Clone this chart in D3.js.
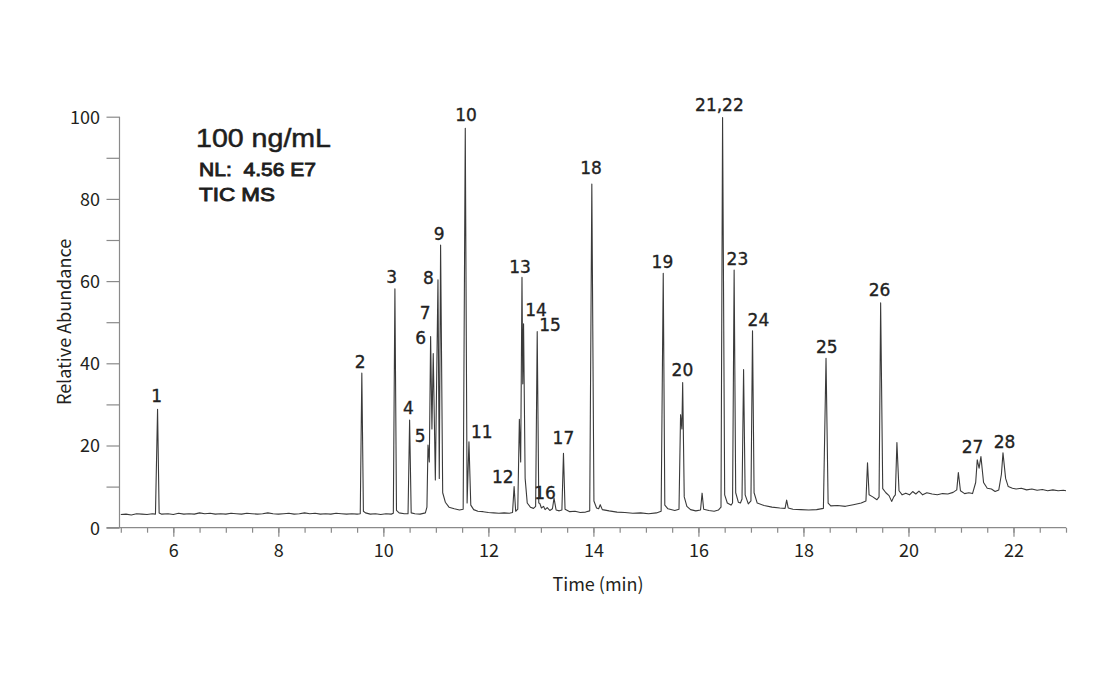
<!DOCTYPE html>
<html>
<head>
<meta charset="utf-8">
<script src="https://cdn.jsdelivr.net/npm/d3@7"></script>
<style>
  html, body { margin: 0; padding: 0; background: #fff; }
  svg { display: block; }
</style>
</head>
<body>
<svg id="chart" width="1101" height="689"></svg>
<script>
// ---- Data ----
const xTickValues = [6, 8, 10, 12, 14, 16, 18, 20, 22];
const yTickValues = [0, 20, 40, 60, 80, 100];

// Total ion chromatogram trace: [time (min), relative abundance (%)]
const trace = [
[5.00,3.2],[5.10,3.3],[5.20,3.1],[5.30,3.4],[5.40,3.3],[5.50,3.2],[5.60,3.4],[5.66,3.3],[5.70,28.8],[5.73,3.6],[5.78,3.3],[5.90,3.4],
[6.00,3.2],[6.10,3.5],[6.20,3.3],[6.30,3.4],[6.40,3.3],[6.50,3.6],[6.60,3.4],[6.70,3.5],[6.80,3.3],[6.90,3.4],[7.00,3.3],[7.10,3.5],
[7.20,3.4],[7.30,3.3],[7.40,3.5],[7.50,3.4],[7.60,3.3],[7.70,3.4],[7.80,3.6],[7.90,3.4],[8.00,3.3],[8.10,3.4],[8.20,3.5],[8.30,3.3],
[8.40,3.4],[8.50,3.6],[8.60,3.4],[8.70,3.5],[8.80,3.3],[8.90,3.4],[9.00,3.3],[9.10,3.5],[9.20,3.4],[9.30,3.3],[9.40,3.4],[9.50,3.3],
[9.56,3.4],[9.59,37.6],[9.62,4.0],[9.66,3.6],[9.75,3.3],[9.85,3.4],[9.95,3.2],[10.05,3.4],[10.15,3.3],[10.19,3.5],[10.22,58.1],
[10.25,4.2],[10.30,3.6],[10.40,3.4],[10.47,3.4],[10.50,26.2],[10.53,3.6],[10.60,3.4],[10.70,3.3],[10.80,3.6],[10.83,5.0],[10.85,20.1],
[10.875,16],[10.90,46.5],[10.925,24],[10.95,42.4],[10.99,11.6],[11.04,60.3],[11.065,12],[11.09,68.8],[11.13,8.5],[11.18,6.2],
[11.25,5.0],[11.35,4.6],[11.45,4.3],[11.52,4.5],[11.56,97.2],[11.595,6.0],[11.63,20.9],[11.665,5.5],[11.72,4.4],[11.80,4.0],
[11.90,3.9],[12.00,3.7],[12.10,3.6],[12.20,3.5],[12.30,3.6],[12.40,3.5],[12.46,3.7],[12.49,10.0],[12.52,4.0],[12.56,4.5],[12.59,26.4],
[12.615,16],[12.64,60.9],[12.655,35],[12.67,49.6],[12.70,12],[12.74,6.0],[12.80,5.0],[12.86,4.7],[12.90,5.2],[12.93,47.7],[12.96,6.0],
[12.98,5.9],[13.01,4.8],[13.05,5.2],[13.08,4.4],[13.12,4.9],[13.17,4.2],[13.22,4.6],[13.25,7.2],[13.29,4.3],[13.35,4.1],[13.40,4.3],
[13.43,18.1],[13.46,4.5],[13.55,3.9],[13.65,4.0],[13.75,3.7],[13.85,3.8],[13.93,4.1],[13.97,83.6],[14.01,6.5],[14.06,4.8],[14.10,4.6],
[14.13,5.6],[14.17,4.4],[14.30,4.1],[14.45,3.8],[14.60,3.7],[14.75,3.5],[14.90,3.6],[15.05,3.4],[15.20,3.6],[15.29,4.0],[15.33,61.9],
[15.36,5.5],[15.42,4.6],[15.55,4.2],[15.63,4.5],[15.66,27.5],[15.685,24],[15.70,35.3],[15.73,7.5],[15.78,5.2],[15.85,4.4],[15.95,4.1],
[16.04,4.3],[16.07,8.4],[16.10,4.5],[16.20,4.2],[16.30,4.0],[16.38,4.3],[16.43,5.0],[16.46,99.8],[16.50,8.0],[16.55,6.0],[16.62,5.5],
[16.65,6.0],[16.68,62.7],[16.71,8.5],[16.76,6.2],[16.80,6.0],[16.83,7.0],[16.86,38.5],[16.89,8.0],[16.95,5.8],[17.00,6.5],[17.03,47.9],
[17.06,8.5],[17.12,6.0],[17.25,5.4],[17.40,5.0],[17.55,4.8],[17.65,4.7],[17.68,6.7],[17.71,4.8],[17.80,4.5],[17.95,4.4],[18.10,4.3],
[18.25,4.4],[18.38,4.7],[18.43,41.2],[18.47,6.0],[18.52,5.3],[18.65,5.4],[18.80,5.2],[18.95,5.6],[19.10,6.0],[19.19,6.5],[19.22,15.8],
[19.25,8.0],[19.32,7.5],[19.40,6.8],[19.44,7.5],[19.47,54.7],[19.51,9.5],[19.57,8.5],[19.63,7.8],[19.68,6.4],[19.72,7.5],[19.75,8.0],
[19.78,20.7],[19.82,9.0],[19.88,8.0],[19.95,8.4],[20.02,8.0],[20.08,8.8],[20.14,8.2],[20.20,8.9],[20.27,8.0],[20.35,8.5],[20.45,8.2],
[20.55,8.0],[20.65,8.3],[20.75,8.2],[20.85,8.6],[20.92,9.2],[20.95,13.4],[20.99,9.0],[21.07,8.3],[21.15,8.5],[21.22,8.3],[21.28,11],
[21.31,16.5],[21.345,14.5],[21.38,17.3],[21.43,11],[21.50,9.6],[21.58,9.4],[21.65,8.8],[21.72,9.2],[21.77,13],[21.80,18.2],[21.85,12],
[21.90,10.0],[21.98,9.6],[22.05,9.4],[22.15,9.6],[22.25,9.2],[22.35,9.4],[22.45,9.1],[22.55,9.3],[22.65,9.0],[22.75,9.2],[22.85,9.0],
[22.95,9.1],[23.00,9.0]
];

// Peak labels and the (time, abundance) at which each label sits
const peakLabels = ["1","2","3","4","5","6","7","8","9","10","11","12","13","14","15","16","17","18","19","20","21,22","23","24","25","26","27","28"];
const peakLabelTime = [5.684,9.556,10.160,10.476,10.699,10.712,10.794,10.857,11.061,11.575,11.874,12.274,12.604,12.909,13.175,13.080,13.429,13.956,15.314,15.695,16.400,16.743,17.143,18.446,19.448,21.219,21.829];
const peakLabelAbund = [32.1,40.4,61.1,29.05,22.3,46.1,52.2,60.9,71.6,100.4,23.4,12.4,63.5,53.0,49.3,8.4,21.8,87.5,64.7,38.4,102.8,65.5,50.5,44.0,57.8,19.7,20.9];

const annotationLines = ["100 ng/mL", "NL:  4.56 E7", "TIC MS"];
const xAxisTitle = "Time (min)";
const yAxisTitle = "Relative Abundance";

// ---- Drawing ----
const svg = d3.select("#chart");
const x = d3.scaleLinear().domain([5, 23]).range([120.8, 1066]);
const y = d3.scaleLinear().domain([0, 100]).range([527.7, 116.7]);

const axisColor = "#8a8a8a";
const textColor = "#231f20";
const axisFont = "'Noto Sans CJK KR', 'Noto Sans', sans-serif";

// Y axis
const yAxis = svg.append("g").attr("transform", `translate(${119.5},0)`)
  .call(d3.axisLeft(y).tickValues(d3.range(0, 101, 10)).tickSize(13).tickSizeOuter(0)
    .tickFormat(d => (yTickValues.includes(d) ? d : "")));
yAxis.select(".domain").remove();
yAxis.selectAll(".tick line").attr("stroke", axisColor).attr("stroke-width", 1.2);
yAxis.selectAll(".tick text").attr("x", -19.5).attr("dy", "0.36em")
  .attr("fill", textColor).style("font-family", axisFont).style("font-size", "18px").style("font-weight", 400);
svg.append("line").attr("x1", 119.5).attr("x2", 119.5).attr("y1", y(100)).attr("y2", y(0))
  .attr("stroke", axisColor).attr("stroke-width", 1.2);

// X axis: minor ticks every 0.5, major every 2
const xMinor = svg.append("g").attr("transform", `translate(0,${y(0)})`)
  .call(d3.axisBottom(x).tickValues(d3.range(5, 23.01, 0.5)).tickSize(5).tickSizeOuter(0).tickFormat(""));
xMinor.select(".domain").remove();
xMinor.selectAll(".tick line").attr("stroke", axisColor).attr("stroke-width", 1.2);

const xMajor = svg.append("g").attr("transform", `translate(0,${y(0)})`)
  .call(d3.axisBottom(x).tickValues(xTickValues).tickSize(9).tickSizeOuter(0));
xMajor.select(".domain").remove();
xMajor.selectAll(".tick line").attr("stroke", axisColor).attr("stroke-width", 1.2);
xMajor.selectAll(".tick text").attr("y", 29).attr("dy", "0")
  .attr("fill", textColor).style("font-family", axisFont).style("font-size", "18px").style("font-weight", 400);
svg.append("line").attr("x1", 106.5).attr("x2", x(23)).attr("y1", y(0)).attr("y2", y(0))
  .attr("stroke", axisColor).attr("stroke-width", 1.2);

// Axis titles
svg.append("text").attr("x", 598).attr("y", 591).attr("text-anchor", "middle")
  .attr("fill", textColor).style("font-family", axisFont).style("font-size", "18px").style("font-weight", 400)
  .text(xAxisTitle);
svg.append("text").attr("transform", "translate(71,322) rotate(-90)").attr("text-anchor", "middle")
  .attr("fill", textColor).style("font-family", axisFont).style("font-size", "18px").style("font-weight", 400)
  .text(yAxisTitle);

// Trace
const line = d3.line().x(d => x(d[0])).y(d => y(d[1]));
svg.append("path").datum(trace).attr("d", line)
  .attr("fill", "none").attr("stroke", "#3a3a3a").attr("stroke-width", 1.1).attr("stroke-linejoin", "round");

// Peak labels
svg.append("g").selectAll("text").data(peakLabels).join("text")
  .attr("x", (d, i) => x(peakLabelTime[i]))
  .attr("y", (d, i) => y(peakLabelAbund[i]))
  .attr("dy", "0.36em")
  .attr("text-anchor", "middle")
  .attr("fill", "#222")
  .attr("stroke", "#222").attr("stroke-width", 0.35)
  .style("font-family", "'DejaVu Sans', sans-serif")
  .style("font-size", "17px")
  .text(d => d);

// Annotation block (spaces kept as non-breaking so the double space survives)
const keepSpaces = s => s.replace(/ /g, "\u00a0");
const ann = svg.append("g").attr("fill", "#1e1e1e").attr("stroke", "#1e1e1e")
  .style("font-family", "'Liberation Sans', Arial, sans-serif");
ann.append("text").attr("x", 196).attr("y", 146.5).style("font-size", "25px").attr("stroke-width", 0.5)
  .attr("textLength", 135).attr("lengthAdjust", "spacingAndGlyphs").text(keepSpaces(annotationLines[0]));
ann.append("text").attr("x", 199).attr("y", 176).style("font-size", "19px").attr("stroke-width", 0.9)
  .attr("textLength", 117).attr("lengthAdjust", "spacingAndGlyphs").text(keepSpaces(annotationLines[1]));
ann.append("text").attr("x", 199).attr("y", 201).style("font-size", "19px").attr("stroke-width", 0.9)
  .attr("textLength", 76).attr("lengthAdjust", "spacingAndGlyphs").text(keepSpaces(annotationLines[2]));
</script>
</body>
</html>
